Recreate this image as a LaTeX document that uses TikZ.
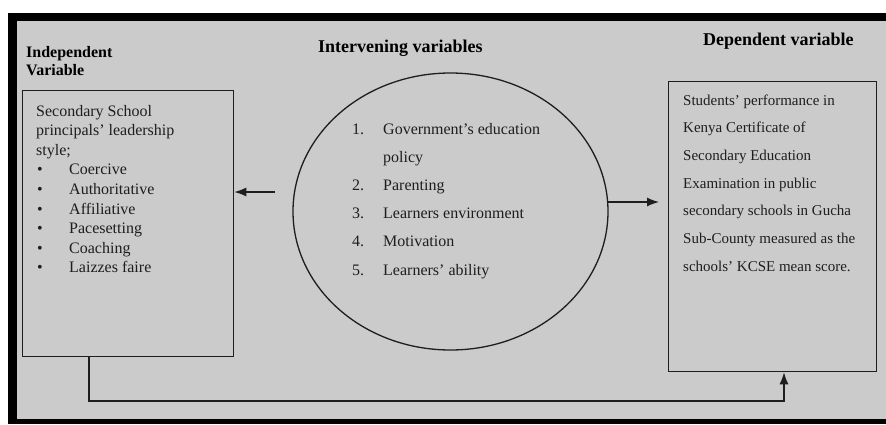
\documentclass[tikz,border=0pt]{standalone}
\usepackage{fontspec}
\setmainfont{Liberation Serif}
\usetikzlibrary{arrows.meta}
\definecolor{paper}{RGB}{203,203,203}
\definecolor{ink}{RGB}{30,30,30}
\tikzset{
  body/.style={inner sep=0pt, text=ink, font=\fontsize{16}{19}\selectfont, anchor=base west},
  bodyr/.style={inner sep=0pt, text=ink, font=\fontsize{15}{18}\selectfont, anchor=base west},
  title/.style={inner sep=0pt, text=black, font=\fontsize{18}{21}\selectfont\bfseries, anchor=base west},
  stitle/.style={inner sep=0pt, text=black, font=\fontsize{16}{19}\selectfont\bfseries, anchor=base west},
  frame/.style={draw=ink, line width=1.3pt},
  arr/.style={draw=ink, line width=1.3pt, -{Latex[length=12pt,width=9pt]}}
}
\begin{document}
\begin{tikzpicture}[x=1pt,y=-1pt]
\useasboundingbox (0,0) rectangle (886,424);
\fill[white] (0,0) rectangle (886,424);
\fill[black] (8,13) rectangle (886,424);
\fill[paper] (17,21) rectangle (886,419);

% titles
\node[stitle] (tind1) at (26,57) {Independent};
\node[stitle] (tind2) at (26,75) {Variable};
\node[title] (tint) at (318,52) {Intervening variables};
\node[title] (tdep) at (703,45) {Dependent variable};

% left box
\node[frame, rectangle, minimum width=211pt, minimum height=266pt, anchor=north west, inner sep=0pt] (lb) at (22,90) {};
\foreach \t [count=\i] in {Secondary School, principals’ leadership, style;}
  \node[body] (lt\i) at (36,{116+19.6*(\i-1)}) {\t};
\foreach \t [count=\i] in {Coercive, Authoritative, Affiliative, Pacesetting, Coaching, Laizzes faire}{
  \node[body] (lbul\i) at (37,{174.8+19.6*(\i-1)}) {\textbullet};
  \node[body] (li\i) at (69,{174.8+19.6*(\i-1)}) {\t};
}

% ellipse
\draw[frame] (450.5,211.5) ellipse [x radius=157.5, y radius=138.5];
\coordinate (ec) at (450.5,211.5);
\node[body] (n1) at (352,134) {1.};
\node[body] (c1) at (383,134) {Government’s education};
\node[body] (c1b) at (383,162.2) {policy};
\node[body] (n2) at (352,190.4) {2.};
\node[body] (c2) at (383,190.4) {Parenting};
\node[body] (n3) at (352,218.6) {3.};
\node[body] (c3) at (383,218.6) {Learners environment};
\node[body] (n4) at (352,246.8) {4.};
\node[body] (c4) at (383,246.8) {Motivation};
\node[body] (n5) at (352,275) {5.};
\node[body] (c5) at (383,275) {Learners’ ability};

% right box
\node[frame, rectangle, minimum width=208pt, minimum height=290pt, anchor=north west, inner sep=0pt] (rb) at (668,81) {};
\foreach \t [count=\i] in {Students’ performance in, Kenya Certificate of, Secondary Education, Examination in public, secondary schools in Gucha, Sub-County measured as the, schools’ KCSE mean score.}
  \node[bodyr] (rt\i) at (683,{105+27.7*(\i-1)}) {\t};

% connectors
\coordinate (a1) at (275,192);
\draw[arr] (a1) -- (a1 -| lb.east);
\coordinate (a2s) at (608,202);
\coordinate (a2e) at (659,202);
\draw[arr] (a2s) -- (a2e);
\coordinate (b1) at (89,356);
\coordinate (b2) at (784,401);
\draw[arr] (b1) |- (b2) -- (b2 |- rb.south);
\end{tikzpicture}
\end{document}
